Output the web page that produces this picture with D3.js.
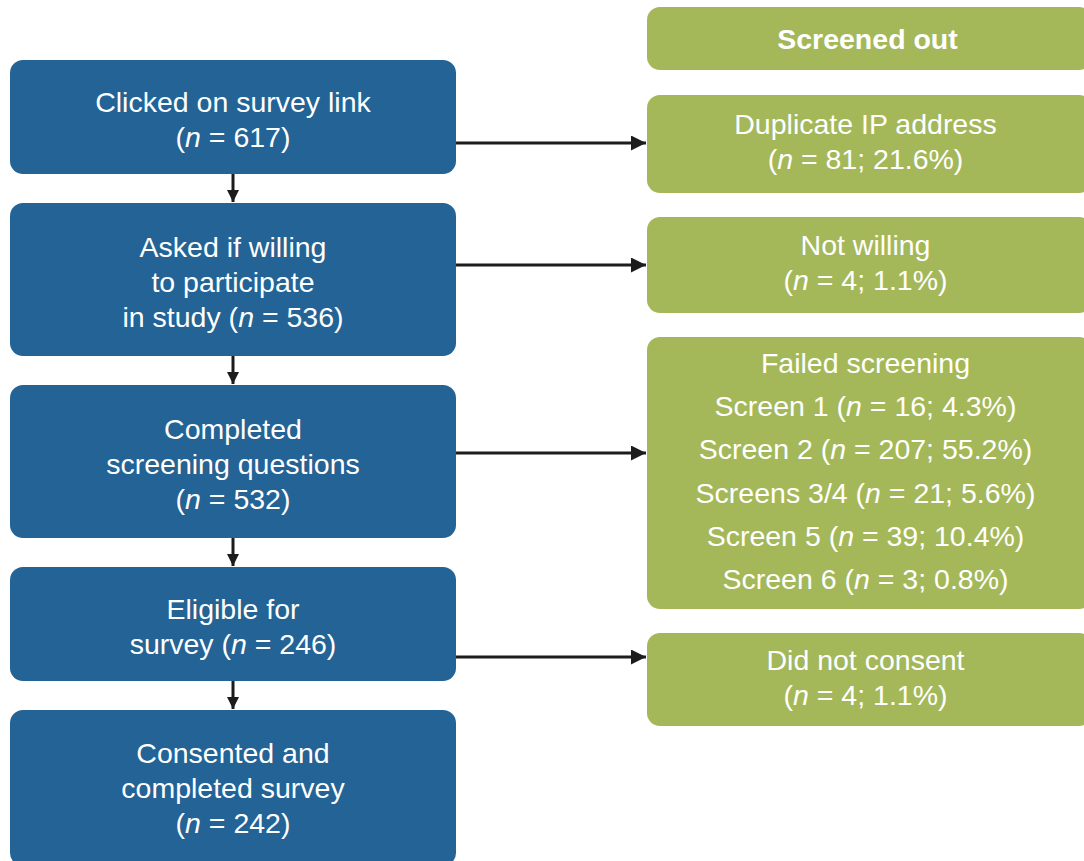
<!DOCTYPE html>
<html>
<head>
<meta charset="utf-8">
<script src="https://cdn.jsdelivr.net/npm/d3@7"></script>
<style>
  html, body { margin: 0; padding: 0; background: #fff; overflow: hidden; }
  svg { display: block; }
  text { font-family: "Liberation Sans", Arial, sans-serif; }
</style>
</head>
<body>
<svg id="chart" width="1084" height="861"></svg>
<script>
// ---------- DATA ----------
const steps = [
  "Clicked on survey link",
  "Asked if willing to participate in study",
  "Completed screening questions",
  "Eligible for survey",
  "Consented and completed survey"
];
const stepCounts = [617, 536, 532, 246, 242];
// line breaks for each step label; "{n}" = italic n = count
const stepLines = [
  ["Clicked on survey link", "({n})"],
  ["Asked if willing", "to participate", "in study ({n})"],
  ["Completed", "screening questions", "({n})"],
  ["Eligible for", "survey ({n})"],
  ["Consented and", "completed survey", "({n})"]
];
const headerLabel = "Screened out";
const exclusions = ["Duplicate IP address", "Not willing", "Failed screening", "Did not consent"];
const exclusionCounts = [81, 4, null, 4];
const exclusionPct = [21.6, 1.1, null, 1.1];
const screens = ["Screen 1", "Screen 2", "Screens 3/4", "Screen 5", "Screen 6"];
const screenCounts = [16, 207, 21, 39, 3];
const screenPct = [4.3, 55.2, 5.6, 10.4, 0.8];

// ---------- LAYOUT ----------
const svg = d3.select("#chart");
const blue = "#236395", green = "#a4b859", ink = "#1c1c1c";
const fs = 28.5;

const blueTop = [60, 203, 385, 567, 710];
const blueH = [114, 153, 153, 114, 156];
const greenTop = [95, 217, 337, 633];
const greenH = [98, 96, 272, 93];
const arrowY = [143, 265, 453, 657];

const xBlue = d3.scaleLinear().domain([0, 1]).range([10, 456]);
const xGreen = d3.scaleLinear().domain([0, 1]).range([647, 1092]);
const yStep = d3.scaleOrdinal().domain(d3.range(steps.length)).range(blueTop);
const hStep = d3.scaleOrdinal().domain(d3.range(steps.length)).range(blueH);
const yEx = d3.scaleOrdinal().domain(d3.range(exclusions.length)).range(greenTop);
const hEx = d3.scaleOrdinal().domain(d3.range(exclusions.length)).range(greenH);
const yArrow = d3.scaleOrdinal().domain(d3.range(exclusions.length)).range(arrowY);

// markers
const defs = svg.append("defs");
defs.append("marker").attr("id", "ah").attr("viewBox", "0 0 10 10")
  .attr("refX", 10).attr("refY", 5).attr("markerWidth", 15).attr("markerHeight", 15)
  .attr("markerUnits", "userSpaceOnUse").attr("orient", "auto")
  .append("path").attr("d", "M0,0 L10,5 L0,10 Z").attr("fill", ink);
defs.append("marker").attr("id", "ahs").attr("viewBox", "0 0 10 10")
  .attr("refX", 10).attr("refY", 5).attr("markerWidth", 12).attr("markerHeight", 12)
  .attr("markerUnits", "userSpaceOnUse").attr("orient", "auto")
  .append("path").attr("d", "M0,0 L10,5 L0,10 Z").attr("fill", ink);

function writeLine(textSel, str, count, pct) {
  const parts = str.split("{n}");
  textSel.append("tspan").text(parts[0]);
  if (parts.length > 1) {
    textSel.append("tspan").attr("font-style", "italic").text("n");
    const rest = " = " + count + (pct != null ? "; " + pct.toFixed(1) + "%" : "");
    textSel.append("tspan").text(rest + parts[1]);
  }
}

// blue boxes
const cx = (xBlue(0) + xBlue(1)) / 2;
steps.forEach((s, i) => {
  const g = svg.append("g");
  g.append("rect").attr("x", xBlue(0)).attr("y", yStep(i))
    .attr("width", xBlue(1) - xBlue(0)).attr("height", hStep(i))
    .attr("rx", 13).attr("fill", blue);
  const lines = stepLines[i];
  const lh = 35;
  const cy = yStep(i) + hStep(i) / 2 + (i === steps.length - 1 ? 0 : 2.5);
  lines.forEach((ln, j) => {
    const t = g.append("text").attr("x", cx)
      .attr("y", cy + (j - (lines.length - 1) / 2) * lh)
      .attr("dy", "0.35em").attr("text-anchor", "middle")
      .attr("fill", "#fff").attr("font-size", fs);
    writeLine(t, ln, stepCounts[i], null);
  });
});

// vertical arrows
d3.range(steps.length - 1).forEach(i => {
  svg.append("line").attr("x1", 233).attr("x2", 233)
    .attr("y1", yStep(i) + hStep(i)).attr("y2", yStep(i + 1) - 1)
    .attr("stroke", ink).attr("stroke-width", 3).attr("marker-end", "url(#ahs)");
});

// green header
const gcx = (xGreen(0) + xGreen(1)) / 2 - 4;
svg.append("rect").attr("x", xGreen(0)).attr("y", 7)
  .attr("width", xGreen(1) - xGreen(0)).attr("height", 63)
  .attr("rx", 13).attr("fill", green);
svg.append("text").attr("x", gcx + 2).attr("y", 39).attr("dy", "0.35em")
  .attr("text-anchor", "middle").attr("fill", "#fff").attr("font-weight", "bold")
  .attr("font-size", fs).text(headerLabel);

// green exclusion boxes
exclusions.forEach((e, i) => {
  const g = svg.append("g");
  g.append("rect").attr("x", xGreen(0)).attr("y", yEx(i))
    .attr("width", xGreen(1) - xGreen(0)).attr("height", hEx(i))
    .attr("rx", 13).attr("fill", green);
  let lines;
  if (exclusionCounts[i] != null) {
    lines = [{ s: e }, { s: "({n})", c: exclusionCounts[i], p: exclusionPct[i] }];
  } else {
    lines = [{ s: e }].concat(screens.map((sc, k) => ({ s: sc + " ({n})", c: screenCounts[k], p: screenPct[k] })));
  }
  const lh = lines.length > 2 ? 43.2 : 35;
  const cy = yEx(i) + hEx(i) / 2 - 2;
  lines.forEach((ln, j) => {
    const t = g.append("text").attr("x", gcx)
      .attr("y", cy + (j - (lines.length - 1) / 2) * lh)
      .attr("dy", "0.35em").attr("text-anchor", "middle")
      .attr("fill", "#fff").attr("font-size", fs);
    writeLine(t, ln.s, ln.c, ln.p);
  });
  svg.append("line").attr("x1", xBlue(1)).attr("x2", xGreen(0) - 1)
    .attr("y1", yArrow(i)).attr("y2", yArrow(i))
    .attr("stroke", ink).attr("stroke-width", 3).attr("marker-end", "url(#ah)");
});
</script>
</body>
</html>
